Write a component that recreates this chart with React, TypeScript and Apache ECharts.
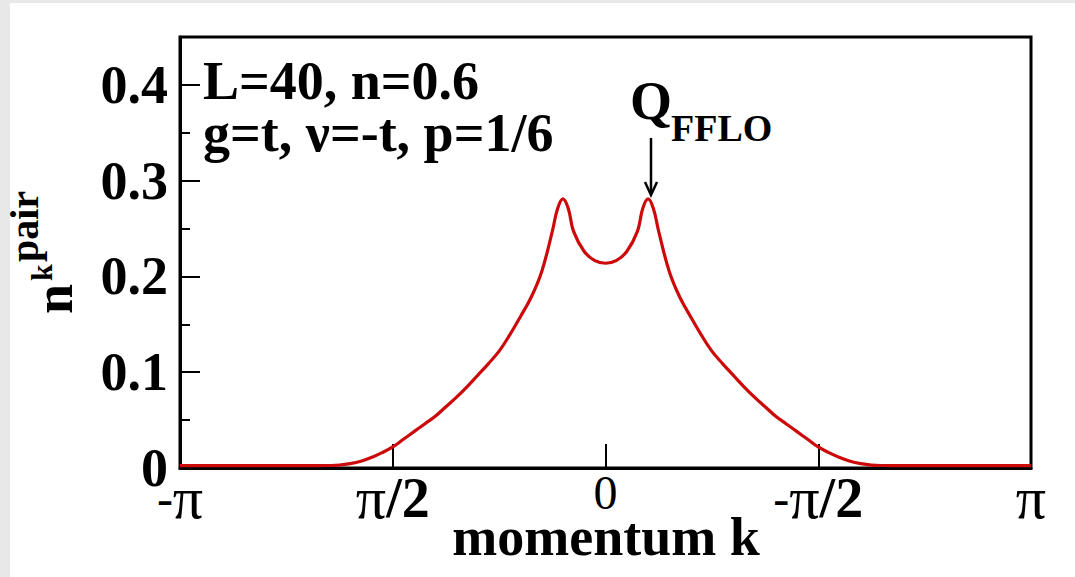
import React, { useEffect, useRef } from "react";
import * as echarts from "echarts";

// momentum k in units of pi
const momentum = [
  -1, -0.95, -0.9, -0.85, -0.8, -0.75, -0.7, -0.65, -0.625, -0.6, -0.575, -0.55, -0.525, -0.5,
  -0.475, -0.45, -0.425, -0.4, -0.375, -0.35, -0.325, -0.3, -0.275, -0.25, -0.225, -0.2, -0.175,
  -0.15, -0.125, -0.1125, -0.1, -0.0875, -0.075, -0.05, -0.025, 0,
  0.025, 0.05, 0.075, 0.0875, 0.1, 0.1125, 0.125, 0.15, 0.175, 0.2, 0.225, 0.25, 0.275, 0.3,
  0.325, 0.35, 0.375, 0.4, 0.425, 0.45, 0.475, 0.5, 0.525, 0.55, 0.575, 0.6, 0.625, 0.65, 0.7,
  0.75, 0.8, 0.85, 0.9, 0.95, 1,
];
const npair = [
  0.0025, 0.0025, 0.0025, 0.0025, 0.0025, 0.0025, 0.0025, 0.0026, 0.003, 0.0045, 0.007, 0.011, 0.016, 0.022,
  0.03, 0.038, 0.046, 0.054, 0.064, 0.074, 0.085, 0.097, 0.109, 0.122, 0.139, 0.158, 0.178,
  0.205, 0.247, 0.271, 0.281, 0.271, 0.247, 0.226, 0.2165, 0.2138,
  0.2165, 0.226, 0.247, 0.271, 0.281, 0.271, 0.247, 0.205, 0.178, 0.158, 0.139, 0.122, 0.109, 0.097,
  0.085, 0.074, 0.064, 0.054, 0.046, 0.038, 0.03, 0.022, 0.016, 0.011, 0.007, 0.0045, 0.003, 0.0026, 0.0025,
  0.0025, 0.0025, 0.0025, 0.0025, 0.0025, 0.0025,
];
const xTickValues = [-1, -0.5, 0, 0.5, 1];
const xTickLabels = ["{r|-}{p|π}", "{p|π}{b|/2}", "{r|0}", "{r|-}{p|π}{b|/2}", "{p|π}"];
const yTickValues = [0, 0.1, 0.2, 0.3, 0.4];
const yTickLabels = ["0", "0.1", "0.2", "0.3", "0.4"];
const infoLine1 = "L=40, n=0.6";
const infoLine2 = "g=t, ν=-t, p=1/6";
const peakLabel = "Q";
const peakSub = "FFLO";
const xTitle = "momentum k";
const yTitleMain = "n";
const yTitleSub = "k";
const yTitleSup = "pair";

const SERIF = "'Liberation Serif', 'Times New Roman', serif";

export default function App() {
  const ref = useRef<HTMLDivElement>(null);
  useEffect(() => {
    if (!ref.current) return;
    const chart = echarts.init(ref.current, null, { renderer: "svg" });
    const data = momentum.map((k, i) => [k, npair[i]]);
    const option: any = {
      animation: false,
      backgroundColor: "#ffffff",
      grid: {
        left: 180,
        right: 44,
        top: 37,
        bottom: 109,
        show: true,
        borderColor: "#000",
        borderWidth: 3,
        backgroundColor: "transparent",
      },
      xAxis: {
        type: "value",
        min: -1,
        max: 1,
        interval: 0.5,
        axisLine: { show: true, onZero: false, lineStyle: { color: "#000", width: 3 } },
        axisTick: { show: true, inside: true, length: 24, lineStyle: { color: "#000", width: 2 } },
        splitLine: { show: false },
        axisLabel: {
          margin: 0,
          formatter: (v: number) => {
            const i = xTickValues.findIndex((t) => Math.abs(t - v) < 1e-9);
            return i >= 0 ? xTickLabels[i] : "";
          },
          rich: {
            r: { fontFamily: SERIF, fontSize: 48, fontWeight: "normal", color: "#000" },
            p: { fontFamily: SERIF, fontSize: 60, fontWeight: "normal", color: "#000" },
            b: { fontFamily: SERIF, fontSize: 56, fontWeight: "bold", color: "#000" },
          },
        },
      },
      yAxis: {
        type: "value",
        min: 0,
        max: 0.45,
        interval: 0.1,
        axisLine: { show: true, onZero: false, lineStyle: { color: "#000", width: 3 } },
        axisTick: { show: true, inside: true, length: 20, lineStyle: { color: "#000", width: 2 } },
        minorTick: { show: true, splitNumber: 2, length: 10, lineStyle: { color: "#000", width: 2 } },
        splitLine: { show: false },
        axisLabel: {
          margin: 12,
          showMaxLabel: false,
          fontFamily: SERIF,
          fontSize: 54,
          fontWeight: "bold",
          color: "#000",
          formatter: (v: number) => {
            const i = yTickValues.findIndex((t) => Math.abs(t - v) < 1e-9);
            return i >= 0 ? yTickLabels[i] : "";
          },
        },
      },
      series: [
        {
          type: "line",
          data,
          smooth: 0.4,
          showSymbol: false,
          lineStyle: { color: "#cc0a0a", width: 3.2 },
          z: 1,
        },
      ],
      graphic: [
        { type: "rect", shape: { x: 0, y: 0, width: 10, height: 577 }, style: { fill: "#e8e8e8" }, z: 100 },
        { type: "rect", shape: { x: 0, y: 0, width: 1075, height: 3 }, style: { fill: "#e8e8e8" }, z: 100 },
        {
          type: "text", x: 203, y: 81, z: 100,
          style: { text: infoLine1, font: `bold 54px ${SERIF}`, fill: "#000", verticalAlign: "middle", align: "left" },
        },
        {
          type: "text", x: 203, y: 133, z: 100,
          style: { text: infoLine2, font: `bold 54px ${SERIF}`, fill: "#000", verticalAlign: "middle", align: "left" },
        },
        {
          type: "text", x: 630, y: 101, z: 100,
          style: { text: peakLabel, font: `bold 54px ${SERIF}`, fill: "#000", verticalAlign: "middle", align: "left" },
        },
        {
          type: "text", x: 671, y: 128, z: 100,
          style: { text: peakSub, font: `bold 38px ${SERIF}`, fill: "#000", verticalAlign: "middle", align: "left" },
        },
        { type: "line", shape: { x1: 651, y1: 138, x2: 651, y2: 194 }, style: { stroke: "#000", lineWidth: 2.5 }, z: 100 },
        {
          type: "polyline",
          shape: { points: [[645, 182], [651, 195], [657, 182]] },
          style: { stroke: "#000", lineWidth: 2.5, fill: null },
          z: 100,
        },
        {
          type: "text", x: 606, y: 537, z: 100,
          style: { text: xTitle, font: `bold 54px ${SERIF}`, fill: "#000", verticalAlign: "middle", align: "center" },
        },
        {
          type: "text", x: 54, y: 314, rotation: Math.PI / 2, z: 100,
          style: { text: yTitleMain, font: `bold 54px ${SERIF}`, fill: "#000", verticalAlign: "middle", align: "left" },
        },
        {
          type: "text", x: 41, y: 281, rotation: Math.PI / 2, z: 100,
          style: { text: yTitleSub, font: `bold 30px ${SERIF}`, fill: "#000", verticalAlign: "middle", align: "left" },
        },
        {
          type: "text", x: 24, y: 262, rotation: Math.PI / 2, z: 100,
          style: { text: yTitleSup, font: `bold 40px ${SERIF}`, fill: "#000", verticalAlign: "middle", align: "left" },
        },
      ],
    };
    chart.setOption(option);
    return () => chart.dispose();
  }, []);
  return (
    <div style={{ position: "fixed", left: 0, top: 0, width: 1075, height: 577, background: "#fff" }}>
      <div ref={ref} style={{ width: 1075, height: 577 }} />
    </div>
  );
}
